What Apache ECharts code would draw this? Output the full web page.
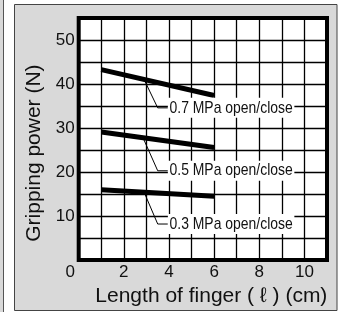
<!DOCTYPE html>
<html><head><meta charset="utf-8">
<script src="https://cdn.jsdelivr.net/npm/echarts@6/dist/echarts.min.js"></script>
<style>html,body{margin:0;padding:0;background:#fff}#c{width:343px;height:312px}</style>
</head><body><div id="c"></div>
<script>
// finger length (cm) and gripping power (N)
const fingerLength = [1, 6];
const grip07 = [43.3, 37.4];
const grip05 = [29.1, 25.6];
const grip03 = [16.0, 14.5];
const seriesLabels = ['0.7 MPa open/close', '0.5 MPa open/close', '0.3 MPa open/close'];
// leader lines (data coordinates): start on curve, bend, end at label
const leader07 = [[2.9, 41.0], [3.5, 34.6], [3.95, 34.6]];
const leader05 = [[2.85, 27.8], [3.5, 20.3], [3.95, 20.3]];
const leader03 = [[2.9, 15.4], [3.5, 8.2], [3.95, 8.2]];
const xTickLabels = [0, 2, 4, 6, 8, 10];
const yTickLabels = [10, 20, 30, 40, 50];

const FONT = '"Liberation Sans", Arial, Helvetica, sans-serif';

const chart = echarts.init(document.getElementById('c'), null, {renderer: 'canvas'});

function curve(vals) { return fingerLength.map((x, i) => [x, vals[i]]); }
function thick(name, vals) {
  return {type: 'line', name, data: curve(vals), symbol: 'none', silent: true, z: 5,
    lineStyle: {color: '#000', width: 5, cap: 'butt'}};
}
function leader(pts) {
  return {type: 'line', data: pts, symbol: 'none', silent: true, z: 4,
    lineStyle: {color: '#000', width: 1}};
}

const boxes = [
  {type: 'rect', z: -100, shape: {x: 0, y: -2, width: 3, height: 320}, style: {fill: '#d9d9d9'}},
  {type: 'line', z: -99, shape: {x1: 3.5, y1: 0, x2: 3.5, y2: 312}, style: {stroke: '#555', lineWidth: 1}},
  {type: 'rect', z: -100, shape: {x: 14.5, y: 4.5, width: 322.5, height: 306}, style: {fill: '#d9d9d9', stroke: '#444', lineWidth: 1}}
];

chart.setOption({
  animation: false,
  backgroundColor: '#fff',
  graphic: {elements: boxes},
  grid: {left: 78.7, top: 18.1, right: 16, bottom: 47.1, show: true,
    backgroundColor: '#fff', borderColor: '#000', borderWidth: 4},
  xAxis: {type: 'value', min: 0, max: 11, interval: 1,
    name: 'Length of finger ( ℓ ) (cm)', nameLocation: 'middle', nameGap: 25,
    nameTextStyle: {fontFamily: FONT, fontSize: 21, color: '#111', padding: [0, 0, 0, 17]},
    axisLine: {show: false}, axisTick: {show: false},
    splitLine: {show: true, lineStyle: {color: '#000', width: 1.3}},
    axisLabel: {margin: 4, fontFamily: FONT, fontSize: 17, color: '#111',
      formatter: v => xTickLabels.includes(v) ? (v === 0 ? '{z|0}' : String(v)) : '',
      rich: {z: {fontFamily: FONT, fontSize: 17, color: '#111', padding: [0, 17, 0, 0]}}}},
  yAxis: {type: 'value', min: 0, max: 55, interval: 5,
    name: 'Gripping power (N)', nameLocation: 'middle', nameGap: 34,
    nameTextStyle: {fontFamily: FONT, fontSize: 21, color: '#111', padding: [0, 28, 0, 0]},
    axisLine: {show: false}, axisTick: {show: false},
    splitLine: {show: true, lineStyle: {color: '#000', width: 1.3}},
    axisLabel: {margin: 4, fontFamily: FONT, fontSize: 17, color: '#111',
      formatter: v => yTickLabels.includes(v) ? String(v) : ''}},
  series: [
    thick(seriesLabels[0], grip07), thick(seriesLabels[1], grip05), thick(seriesLabels[2], grip03),
    leader(leader07), leader(leader05), leader(leader03)
  ]
});

// condensed-looking labels placed at the leader ends via the chart's own scales
const tags = [leader07, leader05, leader03].map((pts, i) => {
  const p = chart.convertToPixel({gridIndex: 0}, pts[2]);
  return {type: 'text', z: 100, x: p[0], y: p[1], scaleX: 0.82, scaleY: 1,
    style: {text: seriesLabels[i], font: '17px "Liberation Sans", Arial, sans-serif',
      fill: '#111', align: 'left', verticalAlign: 'middle',
      backgroundColor: '#fff', padding: [2, 2, 1, 2]}};
});
chart.setOption({graphic: {elements: boxes.concat(tags)}});
</script></body></html>
